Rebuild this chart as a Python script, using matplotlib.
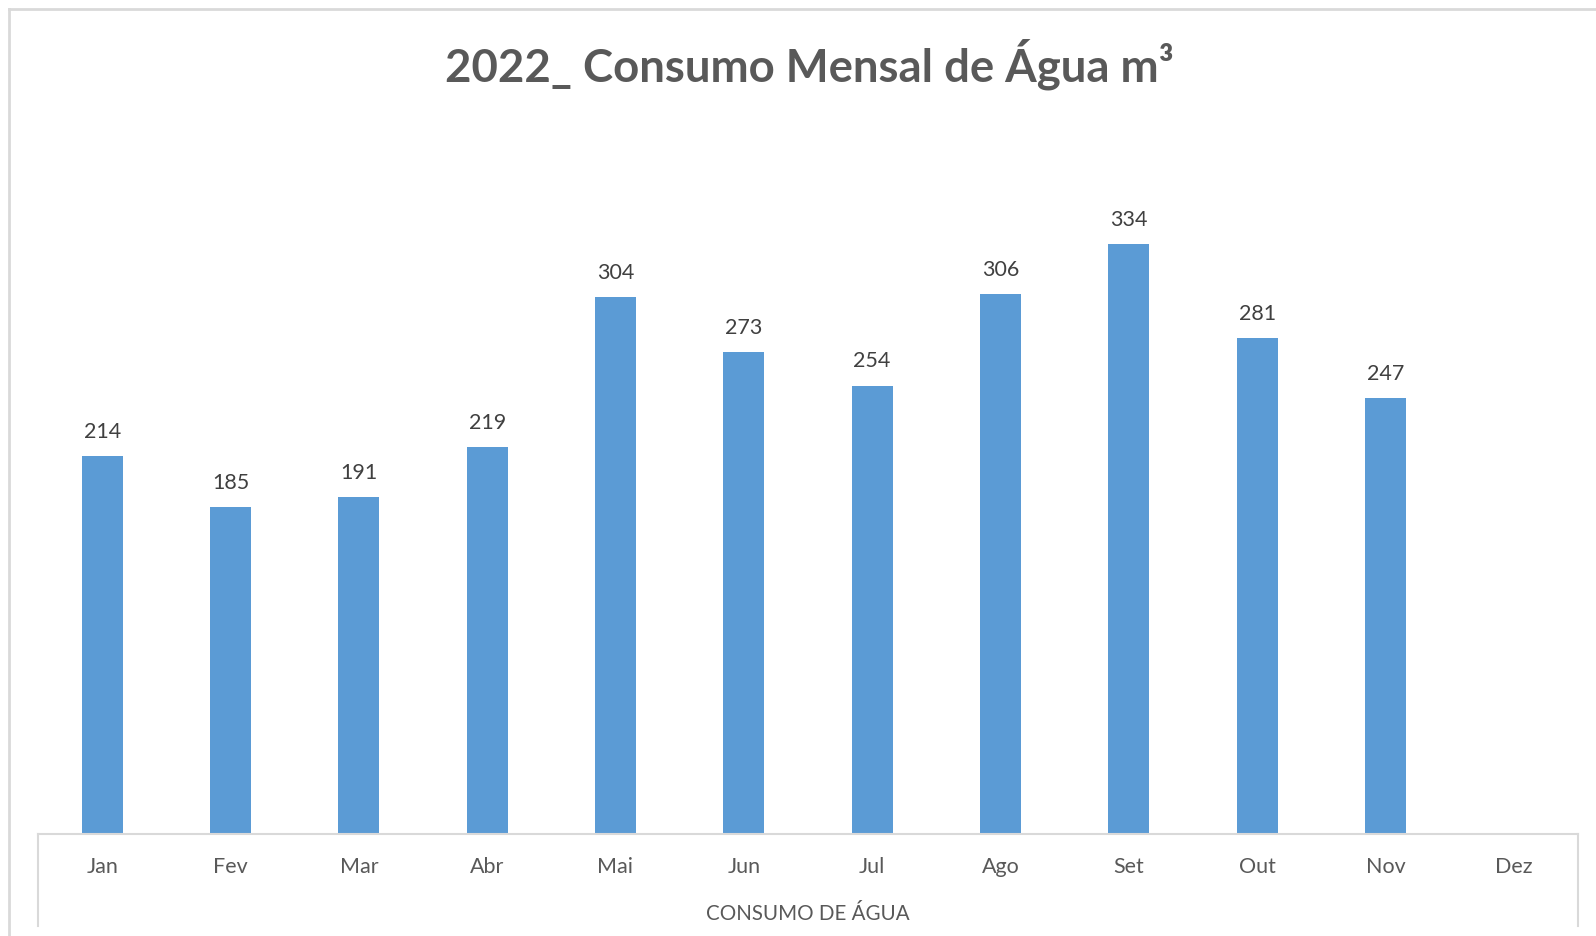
import matplotlib
matplotlib.use("Agg")
import matplotlib.pyplot as plt
from matplotlib.lines import Line2D
import numpy as np

months = ["Jan", "Fev", "Mar", "Abr", "Mai", "Jun", "Jul", "Ago", "Set", "Out", "Nov", "Dez"]
consumo = [214, 185, 191, 219, 304, 273, 254, 306, 334, 281, 247, None]
title = "2022_ Consumo Mensal de Água m³"
xlabel = "CONSUMO DE ÁGUA"

plt.rcParams['font.family'] = ['Lato', 'DejaVu Sans']

W, H = 1596, 937
fig = plt.figure(figsize=(W / 100, H / 100), dpi=100)
fig.patch.set_facecolor("white")

def fx(px):
    return px / W

def fy(py):
    return 1 - py / H

ax_left, ax_right, ax_base, ax_top = 38, 1578, 835, 150
ax = fig.add_axes([fx(ax_left), fy(ax_base), fx(ax_right - ax_left), (ax_base - ax_top) / H])
ax.set_facecolor("none")

x = np.arange(len(months))
vals = [v for v in consumo if v is not None]
xs = [i for i, v in enumerate(consumo) if v is not None]
bars = ax.bar(xs, vals, width=0.32, color="#5B9BD5", zorder=2)
for xi, v in zip(xs, vals):
    ax.annotate(str(v), (xi, v), xytext=(0, 11), textcoords="offset points",
                ha="center", va="bottom", fontsize=15.5, color="#404040")

ax.set_xlim(-0.5, len(months) - 0.5)
ax.set_ylim(0, (ax_base - ax_top) / 1.765)
ax.set_xticks(x)
ax.set_xticklabels(months, fontsize=15.5, color="#595959")
ax.tick_params(axis="x", length=0, pad=16)
ax.set_yticks([])
for s in ax.spines.values():
    s.set_visible(False)

grey = "#d9d9d9"
# axis table box
fig.add_artist(Line2D([fx(ax_left), fx(ax_right)], [fy(ax_base), fy(ax_base)], color=grey, lw=1.5))
fig.add_artist(Line2D([fx(ax_left), fx(ax_left)], [fy(ax_base), fy(927)], color=grey, lw=1.5))
fig.add_artist(Line2D([fx(ax_right), fx(ax_right)], [fy(ax_base), fy(927)], color=grey, lw=1.5))
# outer chart border
fig.add_artist(Line2D([fx(9), fx(9)], [fy(10), fy(H + 5)], color=grey, lw=2))
fig.add_artist(Line2D([fx(9), fx(W + 5)], [fy(10), fy(10)], color=grey, lw=2))

fig.text(fx(809), fy(64), title, ha="center", va="center", fontsize=32.8,
         fontweight="bold", color="#595959")
fig.text(fx(808), fy(914), xlabel, ha="center", va="center", fontsize=14.8, color="#595959")

fig.savefig("out.png", dpi=100, facecolor="white")
